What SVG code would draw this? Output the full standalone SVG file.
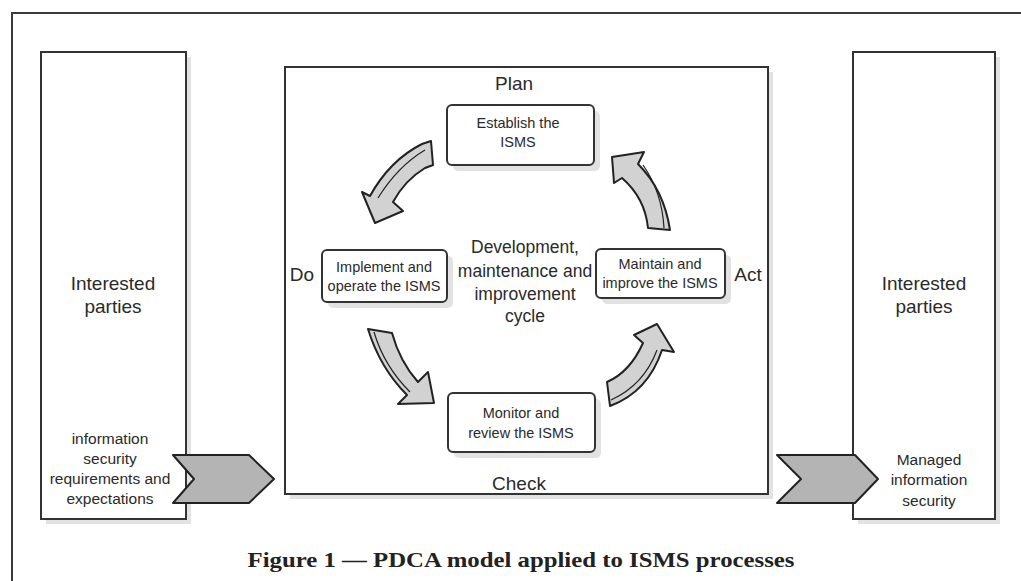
<svg xmlns="http://www.w3.org/2000/svg" width="1021" height="581" viewBox="0 0 1021 581">
<style>
.frame{fill:none;stroke:#3a3a3a;stroke-width:2}
.box{fill:#fff;stroke:#333;stroke-width:2}
.shadow{fill:#e2e2e2}
.node{fill:#fff;stroke:#333;stroke-width:2}
.t{font-family:"Liberation Sans",Arial,sans-serif;fill:#2a2a2a;text-anchor:middle}
.big{font-size:19px}
.mid{font-size:17.5px}
.sm{font-size:14.5px}
.side{font-size:15.5px}
.arrow{fill:#d2d2d2;stroke:#222;stroke-width:2;stroke-linejoin:round}
.inner{fill:none;stroke:#222;stroke-width:1.2}
.chev{fill:#b4b4b4;stroke:#222;stroke-width:2;stroke-linejoin:round}
.cap{font-family:"Liberation Serif","Times New Roman",serif;font-weight:bold;font-size:22px;fill:#222;text-anchor:middle}
</style>
<rect width="1021" height="581" fill="#fff"/>
<path class="frame" d="M12,581 V13 H1021"/>

<g id="left-parties">
<rect class="shadow" x="46" y="57" width="145" height="467"/>
<rect class="box" x="41" y="52" width="145" height="467"/>
<text class="t big" x="113" y="290">Interested</text>
<text class="t big" x="113" y="313">parties</text>
<text class="t side" x="110" y="444">information</text>
<text class="t side" x="110" y="464">security</text>
<text class="t side" x="110" y="484">requirements and</text>
<text class="t side" x="110" y="504">expectations</text>
</g>

<g id="right-parties">
<rect class="shadow" x="858" y="57" width="142" height="467"/>
<rect class="box" x="853" y="52" width="142" height="467"/>
<text class="t big" x="924" y="290">Interested</text>
<text class="t big" x="924" y="313">parties</text>
<text class="t side" x="929" y="465">Managed</text>
<text class="t side" x="929" y="485">information</text>
<text class="t side" x="929" y="506">security</text>
</g>

<g id="isms-cycle">
<rect class="shadow" x="290" y="72" width="483" height="427"/>
<rect class="box" x="285" y="67" width="483" height="427"/>
<text class="t big" x="514" y="90">Plan</text>
<text class="t big" x="302" y="281">Do</text>
<text class="t big" x="748" y="281">Act</text>
<text class="t big" x="519" y="490">Check</text>
<text class="t mid" x="525" y="253">Development,</text>
<text class="t mid" x="525" y="277">maintenance and</text>
<text class="t mid" x="525" y="300">improvement</text>
<text class="t mid" x="525" y="322">cycle</text>
</g>

<g id="establish">
<rect class="shadow" x="453" y="111" width="147" height="60" rx="5"/>
<rect class="node" x="447" y="105" width="147" height="60" rx="5"/>
<text class="t sm" x="518" y="128">Establish the</text>
<text class="t sm" x="518" y="147">ISMS</text>
</g>

<g id="implement">
<rect class="shadow" x="328" y="256" width="125" height="52" rx="5"/>
<rect class="node" x="322" y="250" width="125" height="52" rx="5"/>
<text class="t sm" x="384" y="272">Implement and</text>
<text class="t sm" x="384" y="291">operate the ISMS</text>
</g>

<g id="maintain">
<rect class="shadow" x="602" y="255" width="129" height="49" rx="5"/>
<rect class="node" x="596" y="249" width="129" height="49" rx="5"/>
<text class="t sm" x="660" y="269">Maintain and</text>
<text class="t sm" x="660" y="288">improve the ISMS</text>
</g>

<g id="monitor">
<rect class="shadow" x="454" y="399" width="147" height="59" rx="5"/>
<rect class="node" x="448" y="393" width="147" height="59" rx="5"/>
<text class="t sm" x="521" y="418">Monitor and</text>
<text class="t sm" x="521" y="438">review the ISMS</text>
</g>

<g id="connectors">
<path class="arrow" d="M422,144 L431,141 L433,165 L425,168 Q405,180 393,202 L403,211 L375,223 L362,192 L370,196 Q390,160 422,144 Z"/>
<path class="inner" d="M425,150 Q398,166 378,198"/>
<path class="arrow" d="M612,157 L644,152 L638,164 Q664,190 670,230 L648,228 Q645,198 622,178 L614,183 Z"/>
<path class="inner" d="M643,165 Q662,192 664,228"/>
<path class="arrow" d="M368,329 L392,333 Q400,362 418,382 L428,372 L434,403 L398,404 L407,395 Q380,368 368,329 Z"/>
<path class="inner" d="M374,332 Q384,366 410,392"/>
<path class="arrow" d="M607,382 Q630,372 643,343 L634,335 L657,324 L674,352 L662,350 Q648,392 610,406 Z"/>
<path class="inner" d="M611,400 Q644,385 657,350"/>
<path class="chev" d="M173,455 L249,455 L274,479 L249,503 L173,503 L194,479 Z"/>
<path class="chev" d="M777,455 L855,455 L878,479 L855,503 L777,503 L801,479 Z"/>
</g>

<text class="cap" x="521" y="567" textLength="547" lengthAdjust="spacingAndGlyphs">Figure 1 — PDCA model applied to ISMS processes</text>
</svg>
